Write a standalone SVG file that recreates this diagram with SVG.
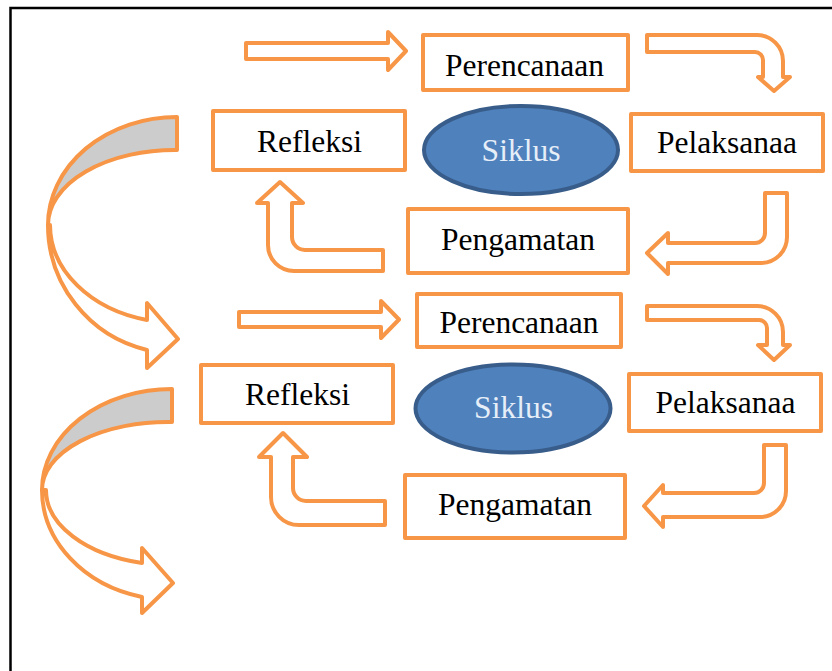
<svg xmlns="http://www.w3.org/2000/svg" width="832" height="671" viewBox="0 0 832 671">
<style>
.box{fill:#FFFFFF;stroke:#F79646;stroke-width:4;stroke-linejoin:round}
.arr{fill:#FFFFFF;stroke:#F79646;stroke-width:4;stroke-linejoin:round}
.back{fill:#CCCCCC;stroke:#F79646;stroke-width:4;stroke-linejoin:round}
.ell{fill:#4F81BD;stroke:#385D8A;stroke-width:4}
.lbl{fill:#000000;font-family:'Liberation Serif','Times New Roman',serif;font-size:31.5px;text-anchor:middle}
.sik{fill:#E6EEF8;font-family:'Liberation Serif','Times New Roman',serif;font-size:31.5px;text-anchor:middle}
</style>
<rect x="0" y="0" width="832" height="671" fill="#FFFFFF"/>
<rect x="10.5" y="8" width="900" height="800" fill="none" stroke="#000000" stroke-width="2.5"/>

<g id="connectors">
  <path class="arr" d="M246,43 L388,43 L388,32 L406,51 L388,70 L388,59 L246,59 Z"/>
  <path class="arr" d="M647,35 L757,35 A26,26 0 0 1 783,61 L783,77 L790,77 L774,91 L758,77 L763,77 L763,60 A8,8 0 0 0 755,52 L647,52 Z"/>
  <path class="arr" d="M765,193 L787,193 L787,237 A26,26 0 0 1 761,263 L668,263 L668,274 L647,253 L668,233 L668,243 L755,243 A10,10 0 0 0 765,233 Z"/>
  <path class="arr" d="M383,250 L383,271 L294,271 A26,26 0 0 1 268,245 L268,203 L257,203 L280,182 L303,203 L292,203 L292,237 A13,13 0 0 0 305,250 Z"/>
  <path class="back" d="M177,117 A129,108 0 0 0 48,225 A127,75 0 0 1 177,150 Z"/>
  <path class="arr" d="M48,225 A129,128.5 0 0 0 147,350 L147,368 L178,339 L147,303 L147,320 A127,98 0 0 1 50,225 Z"/>
  <path class="arr" d="M239,312 L381,312 L381,301 L399,319.5 L381,338 L381,327 L239,327 Z"/>
  <path class="arr" d="M647,306 L757,306 A26,26 0 0 1 783,332 L783,345 L790,345 L774,360 L758,345 L767,345 L767,328 A8,8 0 0 0 759,320 L647,320 Z"/>
  <path class="arr" d="M764,445 L786,445 L786,491 A26,26 0 0 1 760,517 L663,517 L663,527 L644,506 L663,485 L663,493 L754,493 A10,10 0 0 0 764,483 Z"/>
  <path class="arr" d="M385,501 L385,525 L299,525 A28,28 0 0 1 271,497 L271,457 L259,457 L283,433 L307,457 L293,457 L293,488 A13,13 0 0 0 306,501 Z"/>
  <path class="back" d="M172,389 A130,101 0 0 0 42,490 A126,68 0 0 1 172,422 Z"/>
  <path class="arr" d="M42,490 A130,110 0 0 0 142,597 L142,613 L173,583 L142,548 L142,563 A126,75 0 0 1 46,490 Z"/>
</g>

<g id="perencanaan1"><rect class="box" x="423" y="35" width="205" height="55"/><text class="lbl" x="524.5" y="76">Perencanaan</text></g>
<g id="refleksi1"><rect class="box" x="213" y="111" width="192" height="59"/><text class="lbl" x="309.5" y="152">Refleksi</text></g>
<g id="siklus1"><ellipse class="ell" cx="521" cy="150" rx="97" ry="44"/><text class="sik" x="521" y="161">Siklus</text></g>
<g id="pelaksanaa1"><rect class="box" x="631" y="114" width="192" height="57"/><text class="lbl" x="727" y="153">Pelaksanaa</text></g>
<g id="pengamatan1"><rect class="box" x="408" y="209" width="220" height="64"/><text class="lbl" x="518" y="250">Pengamatan</text></g>

<g id="perencanaan2"><rect class="box" x="417" y="294" width="204" height="53"/><text class="lbl" x="519" y="333">Perencanaan</text></g>
<g id="refleksi2"><rect class="box" x="201" y="365" width="192" height="58"/><text class="lbl" x="297.5" y="405">Refleksi</text></g>
<g id="siklus2"><ellipse class="ell" cx="513" cy="408.5" rx="97.5" ry="44"/><text class="sik" x="513.5" y="418">Siklus</text></g>
<g id="pelaksanaa2"><rect class="box" x="629" y="374" width="192" height="57"/><text class="lbl" x="725.5" y="413">Pelaksanaa</text></g>
<g id="pengamatan2"><rect class="box" x="405" y="475" width="220" height="63"/><text class="lbl" x="515" y="515">Pengamatan</text></g>
</svg>
